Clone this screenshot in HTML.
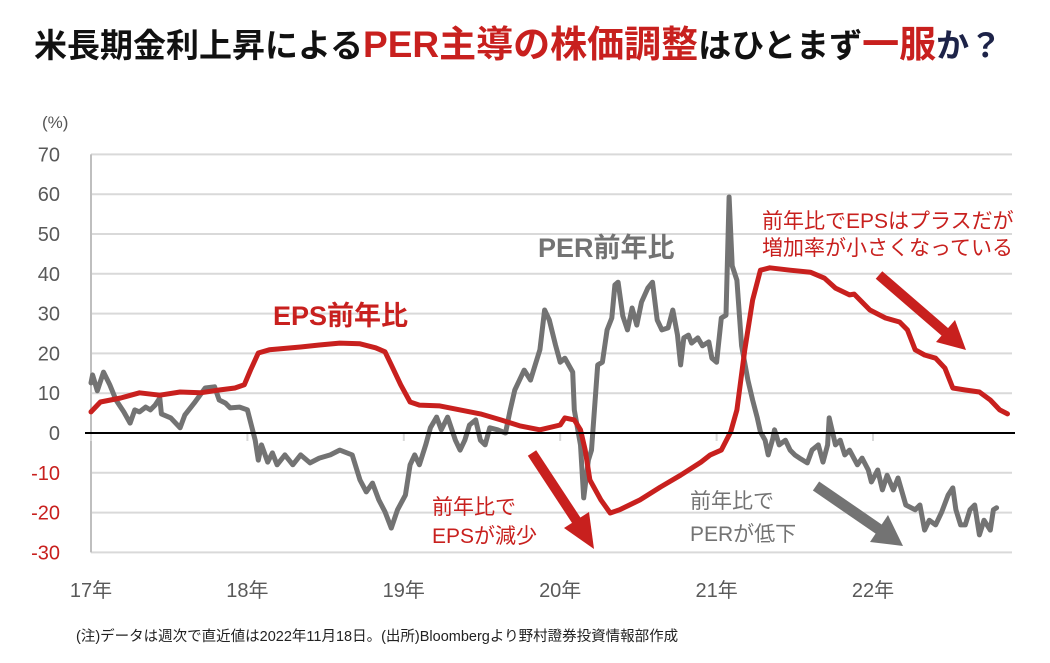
<!DOCTYPE html>
<html><head><meta charset="utf-8"><style>
body{margin:0;background:#fff;}
svg text{font-family:"Liberation Sans","Noto Sans CJK JP",sans-serif;}
</style></head><body>
<svg width="1050" height="658" viewBox="0 0 1050 658" xmlns="http://www.w3.org/2000/svg">
<text x="34" y="57" font-size="33" font-weight="bold"><tspan fill="#111">米長期金利上昇による</tspan><tspan fill="#c8201e" font-size="37">PER主導の株価調整</tspan><tspan fill="#111">はひとまず</tspan><tspan fill="#c8201e" font-size="37">一服</tspan><tspan fill="#1d2348">か？</tspan></text>
<text x="42" y="128" font-size="17" fill="#555">(%)</text>
<g id="grid"></g><g id="yt"></g><g id="xt"></g>
<g id="series"></g>
<text x="273" y="325" font-size="27" font-weight="bold" fill="#c8201e">EPS前年比</text>
<text x="538" y="257" font-size="27" font-weight="bold" fill="#737373">PER前年比</text>
<text x="762" y="228" font-size="21" fill="#c8201e">前年比でEPSはプラスだが</text>
<text x="762" y="255" font-size="21" fill="#c8201e">増加率が小さくなっている</text>
<text x="432" y="514" font-size="21" fill="#c8201e">前年比で</text>
<text x="432" y="543" font-size="21" fill="#c8201e">EPSが減少</text>
<text x="690" y="508" font-size="21" fill="#737373">前年比で</text>
<text x="690" y="541" font-size="21" fill="#737373">PERが低下</text>
<g><line x1="532" y1="453" x2="580" y2="526" stroke="#c8201e" stroke-width="10"/><polygon points="594,549 564,528 589,512" fill="#c8201e"/></g>
<g><line x1="879" y1="275" x2="945" y2="332" stroke="#c8201e" stroke-width="10"/><polygon points="966,350 936,342 955,320" fill="#c8201e"/></g>
<g><line x1="816" y1="486" x2="880" y2="530" stroke="#737373" stroke-width="11"/><polygon points="903,546 870,542 888,515" fill="#737373"/></g>
<text x="76" y="641" font-size="14.5" fill="#222">(注)データは週次で直近値は2022年11月18日。(出所)Bloombergより野村證券投資情報部作成</text>
</svg>
<script>
const yTicks=[70,60,50,40,30,20,10,0,-10,-20,-30];
const xLabels=["17年","18年","19年","20年","21年","22年"];
const xYears=[2017,2018,2019,2020,2021,2022];
const epsDates=[2017.00,2017.06,2017.19,2017.31,2017.44,2017.57,2017.70,2017.82,2017.92,2017.98,2018.02,2018.07,2018.14,2018.34,2018.46,2018.59,2018.72,2018.82,2018.88,2018.92,2018.98,2019.04,2019.10,2019.23,2019.36,2019.49,2019.62,2019.74,2019.87,2020.00,2020.03,2020.09,2020.13,2020.16,2020.19,2020.26,2020.32,2020.38,2020.51,2020.64,2020.77,2020.90,2020.96,2021.03,2021.09,2021.13,2021.18,2021.23,2021.28,2021.34,2021.47,2021.60,2021.69,2021.76,2021.85,2021.88,2021.98,2022.08,2022.17,2022.22,2022.27,2022.33,2022.40,2022.46,2022.51,2022.59,2022.68,2022.75,2022.81,2022.86];
const epsValues=[5.3,7.8,8.8,10.1,9.5,10.3,10.1,10.8,11.3,12.1,15.8,20.1,20.9,21.6,22.1,22.6,22.4,21.4,20.4,17.1,12.1,7.8,7.0,6.8,5.8,4.8,3.3,1.8,0.8,2.0,3.8,3.3,0.8,-4.3,-11.8,-16.8,-20.1,-19.3,-16.8,-13.6,-10.6,-7.3,-5.5,-4.3,0.3,5.8,20.9,33.4,40.9,41.5,40.9,40.4,38.9,36.4,34.7,34.9,30.9,28.9,27.9,25.9,20.9,19.6,18.8,16.3,11.3,10.8,10.3,8.3,5.8,4.8];
const perDates=[2017.00,2017.01,2017.04,2017.08,2017.12,2017.16,2017.21,2017.25,2017.28,2017.31,2017.35,2017.38,2017.41,2017.44,2017.45,2017.51,2017.57,2017.60,2017.66,2017.73,2017.79,2017.82,2017.86,2017.89,2017.95,2018.00,2018.05,2018.07,2018.09,2018.13,2018.16,2018.19,2018.24,2018.29,2018.34,2018.40,2018.46,2018.53,2018.59,2018.67,2018.72,2018.76,2018.80,2018.84,2018.88,2018.92,2018.96,2019.01,2019.04,2019.07,2019.10,2019.14,2019.17,2019.21,2019.24,2019.28,2019.33,2019.36,2019.39,2019.42,2019.46,2019.49,2019.52,2019.55,2019.60,2019.65,2019.68,2019.71,2019.74,2019.77,2019.81,2019.84,2019.87,2019.90,2019.93,2019.97,2020.00,2020.03,2020.08,2020.09,2020.13,2020.15,2020.18,2020.20,2020.24,2020.27,2020.30,2020.33,2020.35,2020.37,2020.40,2020.43,2020.46,2020.49,2020.52,2020.56,2020.59,2020.62,2020.65,2020.69,2020.72,2020.75,2020.77,2020.79,2020.82,2020.84,2020.88,2020.91,2020.95,2020.97,2021.00,2021.03,2021.06,2021.08,2021.10,2021.13,2021.16,2021.20,2021.23,2021.26,2021.28,2021.31,2021.33,2021.36,2021.37,2021.40,2021.44,2021.47,2021.50,2021.53,2021.58,2021.61,2021.65,2021.68,2021.71,2021.72,2021.76,2021.79,2021.82,2021.85,2021.90,2021.93,2021.97,2021.99,2022.03,2022.06,2022.09,2022.13,2022.16,2022.21,2022.27,2022.30,2022.33,2022.36,2022.40,2022.44,2022.48,2022.51,2022.53,2022.56,2022.59,2022.62,2022.65,2022.68,2022.71,2022.75,2022.77,2022.79];
const perValues=[12.6,14.6,10.6,15.3,12.1,8.3,5.3,2.5,5.8,5.3,6.5,5.8,7.0,8.8,4.8,3.8,1.3,4.5,7.5,11.3,11.6,8.3,7.5,6.3,6.5,5.8,-1.8,-6.8,-3.0,-7.3,-5.0,-8.0,-5.5,-8.0,-5.5,-7.5,-6.3,-5.5,-4.3,-5.5,-11.8,-14.8,-12.6,-16.8,-19.8,-23.9,-19.3,-15.6,-8.0,-5.5,-8.0,-3.0,1.3,4.0,0.8,4.0,-1.8,-4.3,-1.8,2.0,3.3,-1.8,-3.0,1.3,0.8,0.0,5.8,10.8,13.3,15.8,13.3,17.1,20.9,30.9,28.4,22.1,17.8,18.8,15.3,5.8,-3.0,-16.3,-6.8,-4.3,17.1,17.8,25.9,28.9,37.2,37.9,29.4,25.9,31.4,27.1,32.9,36.4,37.9,28.4,25.9,26.4,30.9,24.6,17.1,23.9,24.6,22.6,23.9,21.9,22.9,18.8,17.8,28.9,29.6,59.3,42.0,38.4,21.9,13.3,8.3,3.8,0.3,-1.8,-5.5,-1.3,0.8,-3.0,-1.8,-4.3,-5.5,-6.3,-7.5,-4.3,-3.0,-7.3,-3.0,3.8,-3.0,-1.8,-5.5,-4.3,-8.0,-6.3,-9.3,-12.3,-9.3,-14.3,-10.6,-14.3,-11.3,-18.1,-19.3,-18.1,-24.4,-21.9,-23.1,-19.8,-15.6,-13.8,-19.3,-23.1,-23.1,-19.3,-18.1,-25.6,-21.9,-24.4,-19.3,-18.8];

const NS="http://www.w3.org/2000/svg";
const X=t=>91+(t-2017)*156.4;
const Y=v=>433-v*3.98;
function mk(tag,attrs,parent){const e=document.createElementNS(NS,tag);for(const k in attrs)e.setAttribute(k,attrs[k]);document.getElementById(parent).appendChild(e);return e;}
yTicks.forEach(v=>{
  const g=mk('line',{x1:91,x2:1012,y1:Y(v),y2:Y(v),stroke:v===0?'none':'#d9d9d9','stroke-width':2},'grid');
  
  
  const t=mk('text',{x:60,y:Y(v)+7,'text-anchor':'end','font-size':20,fill:v<0?'#c8201e':'#595959'},'yt');
  t.textContent=v;
  
  
});
const ax=mk('line',{x1:91,x2:91,y1:Y(70),y2:Y(-30),stroke:'#bfbfbf','stroke-width':2},'grid');


xYears.forEach((yr,i)=>{
  const tk=mk('line',{x1:X(yr),x2:X(yr),y1:Y(0),y2:Y(0)+8,stroke:'#d9d9d9','stroke-width':2},'xt');
  
  
  const t=mk('text',{x:X(yr),y:597,'text-anchor':'middle','font-size':20,fill:'#595959'},'xt');
  t.textContent=xLabels[i];
  
  
});
function line(dates,vals,color,name){
  const d=dates.map((t,i)=>(i?'L':'M')+X(t).toFixed(1)+','+Y(vals[i]).toFixed(1)).join('');
  const p=mk('path',{d:d,fill:'none',stroke:color,'stroke-width':5,'stroke-linejoin':'round','stroke-linecap':'round'},'series');
  
  
}
line(perDates,perValues,'#737373','per-yoy-line');
line(epsDates,epsValues,'#c8201e','eps-yoy-line');
const z=mk('line',{x1:85,x2:1015,y1:Y(0),y2:Y(0),stroke:'#000','stroke-width':2},'series');


</script>
</body></html>
